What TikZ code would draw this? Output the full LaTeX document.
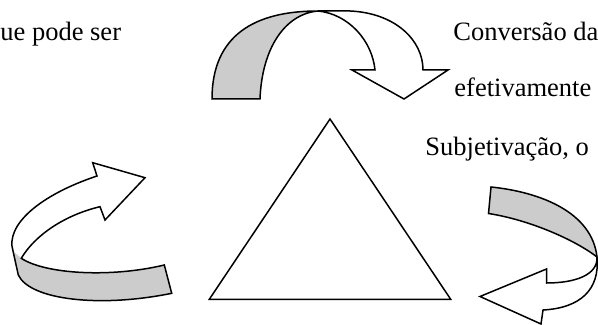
\documentclass[tikz,border=0pt]{standalone}
\usepackage{fontspec}
\setmainfont{Liberation Serif}
\begin{document}
\begin{tikzpicture}[x=0.5pt, y=-0.5pt,
    outline/.style={draw=black, line width=0.75pt, line join=miter},
    backside/.style={fill=black!20},
    txt/.style={font=\fontsize{13.25}{16}\selectfont, inner sep=0pt, anchor=base west}]

            \useasboundingbox (0,0) rectangle (598,325);
            \clip (0,0) rectangle (598,325);

            %----- TEXTS -----
            \node[txt] (pode) at (0,41) {ue pode ser};
            \node[txt] (conv) at (453,41) {Conversão da};
            \node[txt] (efet) at (454,97) {efetivamente};
            \node[txt] (subj) at (425,156) {Subjetivação, o};

            %----- TRIANGLE -----
            \coordinate (apex) at (330,119);
            \coordinate (bl) at (209.3,299.3);
            \coordinate (br) at (450.7,299.3);
            \draw[outline] (apex) -- (bl) -- (br) -- cycle;

            %----- TOP ARROW -----
            % grey back of the ribbon on the left
            \fill[backside] (212,99) .. controls (212,35) and (255,11) .. (318,11)
                .. controls (285,14) and (262,48) .. (260,99) -- cycle;
            \draw[outline] (212,99) .. controls (212,35) and (255,11) .. (318,11)
                -- (350,11) .. controls (395,13) and (423,40) .. (423,70)
                -- (448,70) -- (404,99) -- (352,70) -- (375,70)
                .. controls (372,40) and (348,14) .. (318,11)
                .. controls (285,14) and (262,48) .. (260,99) -- cycle;

            %----- LEFT ARROW -----
            \fill[backside] (13,251) -- (18.3,275)
                .. controls (30,300) and (100,308) .. (171.7,293.3)
                -- (164.3,265) .. controls (110,278) and (45,274) .. (21.3,258.3) -- cycle;
            \draw[outline] (13,251) .. controls (5,225) and (40,195) .. (97,176)
                -- (92.7,162.7) -- (145,177.7) -- (105,220) -- (100,206.7)
                .. controls (65,215) and (35,235) .. (21.3,258.3)
                .. controls (45,274) and (110,278) .. (164.3,265)
                -- (171.7,293.3) .. controls (100,308) and (30,300) .. (18.3,275)
                -- cycle;

            %----- RIGHT ARROW -----
            \fill[backside] (491,187) .. controls (540,192) and (592,212) .. (597,257)
                .. controls (575,240) and (530,220) .. (488.5,213.5) -- cycle;
            \draw[outline] (491,187) .. controls (540,192) and (592,212) .. (597,257)
                .. controls (600,290) and (580,308) .. (543,310)
                -- (541,324) -- (480,296.5) -- (546.5,269) -- (546.5,283)
                .. controls (575,283) and (598,275) .. (597,257)
                .. controls (575,240) and (530,220) .. (488.5,213.5) -- cycle;

\end{tikzpicture}
\end{document}
